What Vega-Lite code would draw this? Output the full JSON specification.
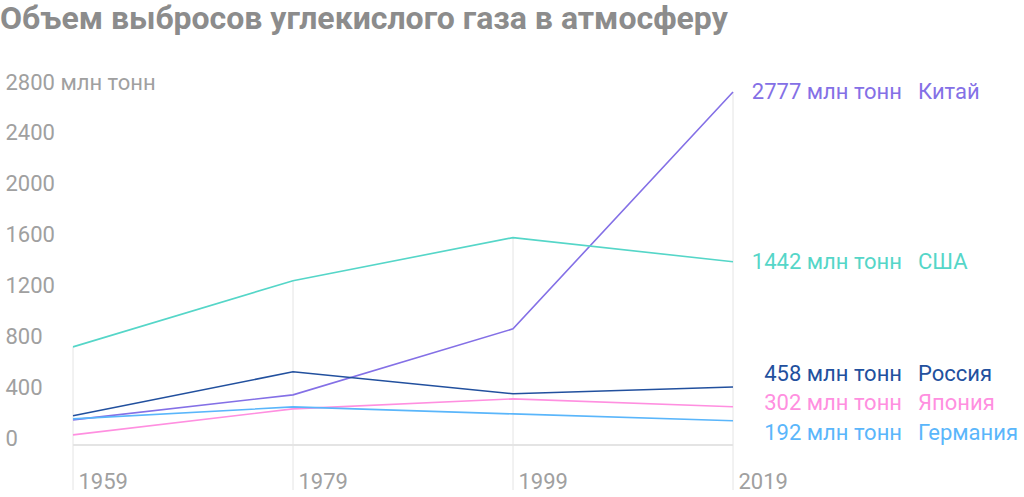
{
  "$schema": "https://vega.github.io/schema/vega-lite/v6.json",
  "width": 660,
  "height": 401,
  "autosize": {"type": "none"},
  "padding": {"left": 73, "top": 89, "right": 291, "bottom": 7},
  "background": "white",
  "config": {"view": {"stroke": null}, "font": "Roboto"},
  "title": {
    "text": "Объем выбросов углекислого газа в атмосферу",
    "anchor": "start",
    "frame": "group",
    "dx": -73,
    "offset": 35,
    "fontSize": 32,
    "fontWeight": "bold",
    "font": "Roboto",
    "color": "#8c8c8c"
  },
  "datasets": {
    "series": [
      {"country": "Китай", "year": 1959, "value": 199},
      {"country": "Китай", "year": 1979, "value": 396},
      {"country": "Китай", "year": 1999, "value": 915},
      {"country": "Китай", "year": 2019, "value": 2777},
      {"country": "США", "year": 1959, "value": 773},
      {"country": "США", "year": 1979, "value": 1293},
      {"country": "США", "year": 1999, "value": 1632},
      {"country": "США", "year": 2019, "value": 1442},
      {"country": "Россия", "year": 1959, "value": 231},
      {"country": "Россия", "year": 1979, "value": 577},
      {"country": "Россия", "year": 1999, "value": 404},
      {"country": "Россия", "year": 2019, "value": 458},
      {"country": "Япония", "year": 1959, "value": 81},
      {"country": "Япония", "year": 1979, "value": 286},
      {"country": "Япония", "year": 1999, "value": 364},
      {"country": "Япония", "year": 2019, "value": 302},
      {"country": "Германия", "year": 1959, "value": 207},
      {"country": "Германия", "year": 1979, "value": 301},
      {"country": "Германия", "year": 1999, "value": 246},
      {"country": "Германия", "year": 2019, "value": 192}
    ],
    "labels": [
      {"country": "Китай", "year": 2019, "value": 2777, "label": "2777 млн тонн"},
      {"country": "США", "year": 2019, "value": 1442, "label": "1442 млн тонн"},
      {"country": "Россия", "year": 2019, "value": 458, "label": "458 млн тонн"},
      {"country": "Япония", "year": 2019, "value": 302, "label": "302 млн тонн"},
      {"country": "Германия", "year": 2019, "value": 192, "label": "192 млн тонн"}
    ]
  },
  "data": {"name": "series"},
  "encoding": {
    "x": {
      "field": "year",
      "type": "quantitative",
      "scale": {"domain": [1959, 2019], "nice": false, "zero": false},
      "axis": {
        "values": [1959, 1979, 1999, 2019],
        "format": "d",
        "title": null,
        "grid": false,
        "domain": false,
        "ticks": false,
        "labelAlign": "left",
        "labelFlush": false,
        "labelOffset": 5,
        "labelPadding": -2,
        "labelBaseline": "alphabetic",
        "labelFontSize": 22,
        "labelColor": "#a0a0a0",
        "labelFont": "Roboto"
      }
    },
    "y": {
      "field": "value",
      "type": "quantitative",
      "scale": {"domain": [-352, 2800], "nice": false, "zero": false},
      "axis": {
        "values": [0, 400, 800, 1200, 1600, 2000, 2400, 2800],
        "format": "d",
        "title": null,
        "grid": false,
        "domain": false,
        "ticks": false,
        "labelAlign": "left",
        "labelFlush": false,
        "labelPadding": 68,
        "labelBaseline": "alphabetic",
        "labelFontSize": 22,
        "labelColor": "#a0a0a0",
        "labelFont": "Roboto",
        "labelOverlap": false,
        "labelExpr": "datum.value === 2800 ? '2800 млн тонн' : datum.label"
      }
    },
    "color": {
      "field": "country",
      "type": "nominal",
      "scale": {
        "domain": ["Китай", "США", "Россия", "Япония", "Германия"],
        "range": ["#8470e6", "#55d6c8", "#22509e", "#ff8fe0", "#5ab6fb"]
      },
      "legend": null
    }
  },
  "layer": [
    {
      "mark": {"type": "rule", "color": "#e4e4e4", "strokeWidth": 1},
      "encoding": {
        "x": {"field": "year", "type": "quantitative"},
        "y": {"aggregate": "max", "field": "value", "type": "quantitative"},
        "y2": {"datum": -352},
        "color": {"value": "#e4e4e4"}
      }
    },
    {
      "mark": {"type": "rule", "color": "#e4e4e4", "strokeWidth": 1},
      "encoding": {
        "x": {"datum": 1959, "type": "quantitative"},
        "x2": {"datum": 2019},
        "y": {"datum": 0, "type": "quantitative"},
        "color": {"value": "#e4e4e4"}
      }
    },
    {
      "mark": {"type": "line", "strokeWidth": 1.6},
      "encoding": {"detail": {"field": "country"}}
    },
    {
      "data": {"name": "labels"},
      "transform": [{"filter": "datum.country === 'Китай' || datum.country === 'США'"}],
      "layer": [
        {"mark": {"type": "text", "align": "right", "baseline": "middle", "dx": 169, "fontSize": 22, "font": "Roboto"}, "encoding": {"text": {"field": "label"}}},
        {"mark": {"type": "text", "align": "left", "baseline": "middle", "dx": 185, "fontSize": 22, "font": "Roboto"}, "encoding": {"text": {"field": "country"}}}
      ]
    },
    {
      "data": {"name": "labels"},
      "transform": [{"filter": "datum.country === 'Россия'"}],
      "layer": [
        {"mark": {"type": "text", "align": "right", "baseline": "middle", "dx": 169, "dy": -13, "fontSize": 22, "font": "Roboto"}, "encoding": {"text": {"field": "label"}}},
        {"mark": {"type": "text", "align": "left", "baseline": "middle", "dx": 185, "dy": -13, "fontSize": 22, "font": "Roboto"}, "encoding": {"text": {"field": "country"}}}
      ]
    },
    {
      "data": {"name": "labels"},
      "transform": [{"filter": "datum.country === 'Япония'"}],
      "layer": [
        {"mark": {"type": "text", "align": "right", "baseline": "middle", "dx": 169, "dy": -4, "fontSize": 22, "font": "Roboto"}, "encoding": {"text": {"field": "label"}}},
        {"mark": {"type": "text", "align": "left", "baseline": "middle", "dx": 185, "dy": -4, "fontSize": 22, "font": "Roboto"}, "encoding": {"text": {"field": "country"}}}
      ]
    },
    {
      "data": {"name": "labels"},
      "transform": [{"filter": "datum.country === 'Германия'"}],
      "layer": [
        {"mark": {"type": "text", "align": "right", "baseline": "middle", "dx": 169, "dy": 12, "fontSize": 22, "font": "Roboto"}, "encoding": {"text": {"field": "label"}}},
        {"mark": {"type": "text", "align": "left", "baseline": "middle", "dx": 185, "dy": 12, "fontSize": 22, "font": "Roboto"}, "encoding": {"text": {"field": "country"}}}
      ]
    }
  ]
}
